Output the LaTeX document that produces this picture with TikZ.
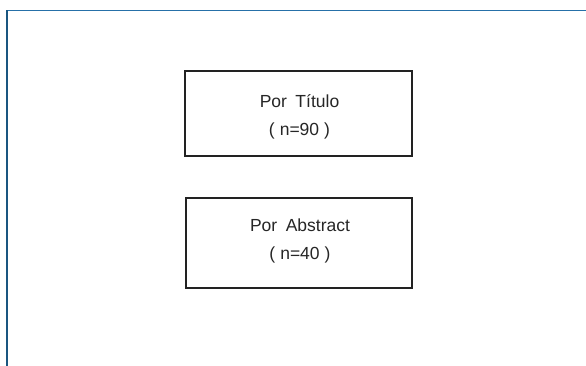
\documentclass[tikz,border=0pt]{standalone}
\usepackage{fontspec}
\setmainfont{Liberation Sans}
\definecolor{frameblue}{RGB}{38,112,168}
\definecolor{frameside}{RGB}{26,86,128}
\definecolor{boxline}{RGB}{34,34,34}
\tikzset{
  countbox/.style={draw=boxline, line width=1.2pt, fill=white, inner sep=0pt},
  countlabel/.style={align=center, text=black!85, font=\fontsize{17.5}{28}\selectfont},
}
\newcommand{\gapword}{\hspace{8.5pt}}
\newcommand{\paren}[1]{(\hspace{5pt}#1\hspace{5pt})}
\begin{document}
\begin{tikzpicture}[x=1pt,y=-1pt]
  \useasboundingbox[fill=white] (0,0) rectangle (586,366);
  % page frame: top and left edges
  \coordinate (tl) at (7,10.5);
  \coordinate (tr) at (586,10.5);
  \coordinate (bl) at (7,366);
  \draw[frameblue, line width=1.3pt] (tl) -- (tr);
  \draw[frameside, line width=1.4pt] (tl) -- (bl);
  % boxes
  \node[countbox, minimum width=227pt, minimum height=85pt] (titulo) at (298.5,113.5) {};
  \node[countbox, minimum width=226pt, minimum height=90pt] (abstract) at (299,243) {};
  \node[countlabel] (tituloText) at (299.5,117) {Por\gapword Título\\ \paren{n=90}};
  \node[countlabel] (abstractText) at (300,241) {Por\gapword Abstract\\ \paren{n=40}};
\end{tikzpicture}
\end{document}
